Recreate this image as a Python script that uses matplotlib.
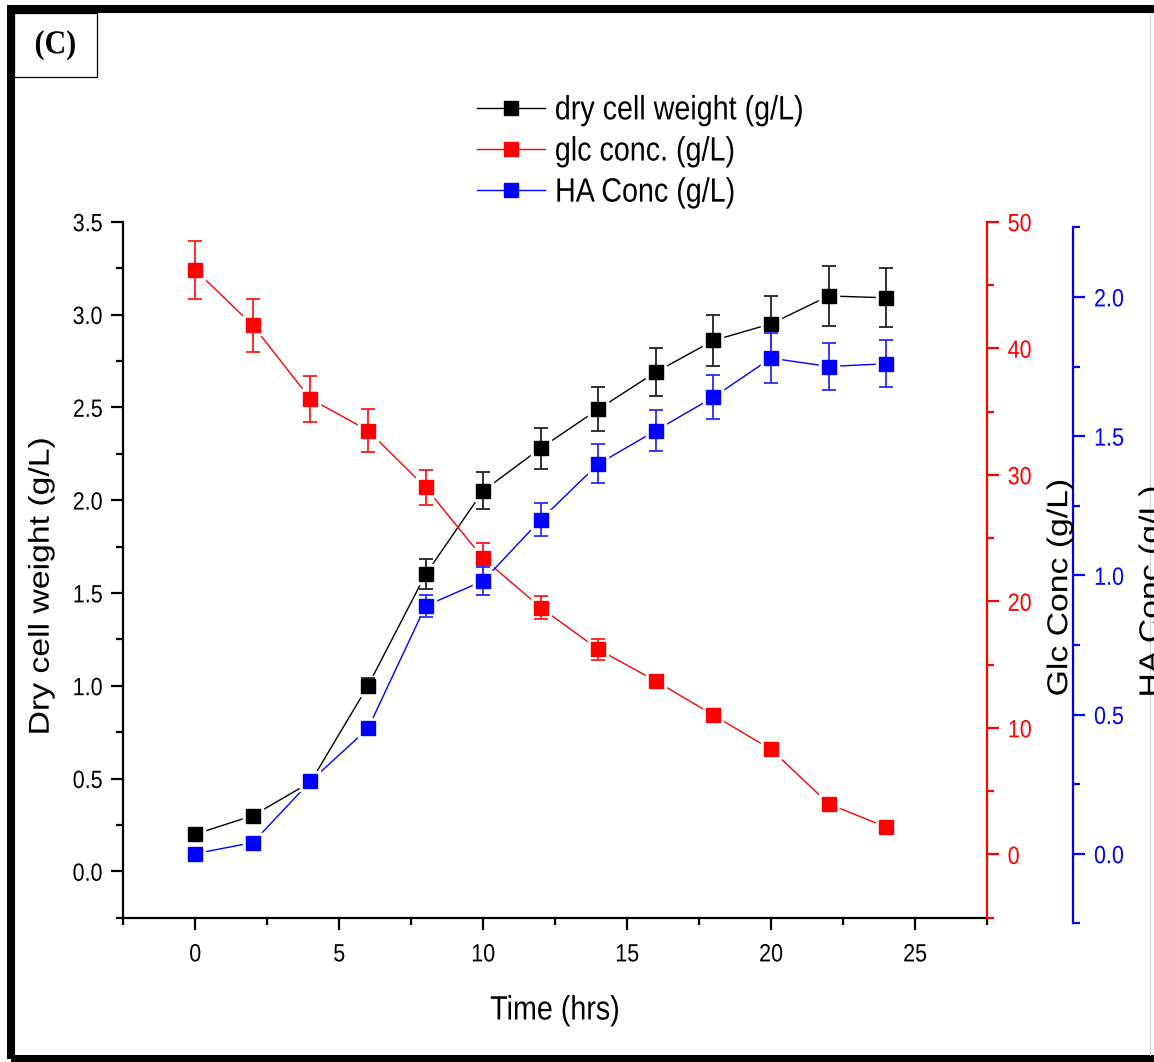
import matplotlib
matplotlib.use("Agg")
import matplotlib.pyplot as plt
from matplotlib.patches import Rectangle
from matplotlib.lines import Line2D
from matplotlib.ticker import MultipleLocator, FixedLocator
from matplotlib.patheffects import AbstractPathEffect
from matplotlib.transforms import Affine2D

# ---------------- data ----------------
time_h = [0, 2, 4, 6, 8, 10, 12, 14, 16, 18, 20, 22, 24]
dcw = [0.20, 0.30, 0.48, 1.00, 1.60, 2.05, 2.28, 2.49, 2.69, 2.86, 2.95, 3.10, 3.09]
dcw_err = [0.02, 0.02, 0.03, 0.04, 0.08, 0.10, 0.11, 0.12, 0.13, 0.14, 0.15, 0.16, 0.16]
glc = [46.2, 41.8, 36.0, 33.5, 29.0, 23.4, 19.5, 16.2, 13.7, 11.0, 8.3, 4.0, 2.15]
glc_err = [2.3, 2.1, 1.8, 1.7, 1.4, 1.2, 0.9, 0.8, 0.4, 0.3, 0.3, 0.3, 0.3]
ha = [0.00, 0.04, 0.26, 0.45, 0.89, 0.98, 1.20, 1.40, 1.52, 1.64, 1.78, 1.75, 1.76]
ha_err = [0.01, 0.01, 0.02, 0.02, 0.04, 0.05, 0.06, 0.07, 0.075, 0.08, 0.09, 0.085, 0.085]

x_ticks = [0, 5, 10, 15, 20, 25]
labels = ["dry cell weight (g/L)", "glc conc. (g/L)", "HA Conc (g/L)"]


class Squeeze(AbstractPathEffect):
    """Draw text scaled along its own x / y directions, keeping an anchor fixed."""

    def __init__(self, sx=1.0, sy=1.0, ax_=0.5, ay_=0.5):
        super().__init__()
        self.sx, self.sy, self.ax_, self.ay_ = sx, sy, ax_, ay_

    def draw_path(self, renderer, gc, tpath, affine, rgbFace=None):
        ext = tpath.get_extents()
        cx = ext.x0 + self.ax_ * (ext.x1 - ext.x0)
        cy = ext.y0 + self.ay_ * (ext.y1 - ext.y0)
        tr = Affine2D().scale(self.sx, self.sy).translate((1 - self.sx) * cx,
                                                           (1 - self.sy) * cy)
        renderer.draw_path(gc, tpath, tr + affine, rgbFace)


W, H = 1154, 1062
fig = plt.figure(figsize=(W / 100, H / 100), dpi=100)
fig.patch.set_facecolor("white")

SANS = ["Liberation Sans", "DejaVu Sans"]
TICK_FS = 18
LAB_FS = 24.3
SQ = 0.85


def fx(px):
    return px / W


def fy(py):
    return 1 - py / H


L, R, T, B = 123.3, 987.0, 221.7, 917.7
ax = fig.add_axes([fx(L), fy(B), (R - L) / W, (B - T) / H])
ax.set_facecolor("none")
ax2 = ax.twinx()
ax3 = fig.add_axes([fx(L), fy(B + 5.6), (R - L) / W, (B - T) / H])
ax3.set_facecolor("none")

# main axis
for s in ["top", "right"]:
    ax.spines[s].set_visible(False)
for s in ["left", "bottom"]:
    ax.spines[s].set_linewidth(1.6)
ax.set_xlim(-2.5, 27.5)
ax.set_ylim(-0.25, 3.5)
ax.xaxis.set_major_locator(FixedLocator(x_ticks))
ax.xaxis.set_minor_locator(MultipleLocator(2.5))
ax.yaxis.set_major_locator(MultipleLocator(0.5))
ax.yaxis.set_minor_locator(MultipleLocator(0.25))

# glc axis
for s in ["top", "left", "bottom"]:
    ax2.spines[s].set_visible(False)
ax2.spines["right"].set_color("red")
ax2.spines["right"].set_linewidth(1.6)
ax2.set_ylim(-5, 50)
ax2.yaxis.set_major_locator(MultipleLocator(10))
ax2.yaxis.set_minor_locator(MultipleLocator(5))

# HA axis
for s in ["top", "left", "bottom"]:
    ax3.spines[s].set_visible(False)
ax3.spines["right"].set_position(("axes", (1073.3 - L) / (R - L)))
ax3.spines["right"].set_color("blue")
ax3.spines["right"].set_linewidth(1.6)
ax3.xaxis.set_visible(False)
ax3.yaxis.tick_right()
ax3.set_xlim(-2.5, 27.5)
ax3.set_ylim(-0.25, 2.25)
ax3.yaxis.set_major_locator(MultipleLocator(0.5))
ax3.yaxis.set_minor_locator(MultipleLocator(0.25))

for a, col in [(ax, "black"), (ax2, "red"), (ax3, "blue")]:
    a.tick_params(which="major", direction="out", length=8.8, width=1.6,
                  color=col, labelcolor=col, labelsize=TICK_FS, pad=6)
    a.tick_params(which="minor", direction="out", length=4.8, width=1.6, color=col)

ax.tick_params(axis="x", which="major", pad=9)

for lab in ax.get_yticklabels():
    lab.set_family(SANS)
    lab.set_path_effects([Squeeze(sx=0.86, ax_=1.0)])
for lab in ax.get_xticklabels():
    lab.set_family(SANS)
    lab.set_path_effects([Squeeze(sx=0.86, ax_=0.5)])
for a in (ax2, ax3):
    for lab in a.get_yticklabels():
        lab.set_family(SANS)
        lab.set_path_effects([Squeeze(sx=0.86, ax_=0.0)])


def draw_series(a, y, err, col, ecol):
    a.plot(time_h, y, color=col, linewidth=1.0, zorder=2)
    a.plot(time_h, y, linestyle="none", marker="s", markersize=14,
           markerfacecolor="white", markeredgecolor="white", zorder=2.2)
    a.errorbar(time_h, y, yerr=err, fmt="none", ecolor=ecol, elinewidth=1.3,
               capsize=5, capthick=1.3, zorder=2.4)
    a.plot(time_h, y, linestyle="none", marker="s", markersize=10,
           color=col, zorder=2.6)


draw_series(ax, dcw, dcw_err, "black", "#222222")
draw_series(ax2, glc, glc_err, "red", "#ff1a1a")
draw_series(ax3, ha, ha_err, "blue", "#2a2aff")

# axis titles
rot_fx = [Squeeze(sy=SQ, ay_=0.5)]
fig.text(fx(41.5), fy(586.5), "Dry cell weight (g/L)", rotation=90, ha="center",
         va="center", fontsize=LAB_FS, family=SANS, path_effects=rot_fx)
fig.text(fx(555), fy(1011), "Time (hrs)", ha="center", va="center",
         fontsize=LAB_FS, family=SANS, path_effects=[Squeeze(sx=SQ, ax_=0.5)])
fig.text(fx(1060), fy(587.5), "Glc Conc (g/L)", rotation=90, ha="center",
         va="center", fontsize=LAB_FS, family=SANS, path_effects=rot_fx)
fig.text(fx(1152), fy(591.5), "HA Conc (g/L)", rotation=90, ha="center",
         va="center", fontsize=LAB_FS, family=SANS, path_effects=rot_fx)

# legend
handles = [
    Line2D([], [], color="black", marker="s", markersize=10, linewidth=1.0),
    Line2D([], [], color="red", marker="s", markersize=10, linewidth=1.0),
    Line2D([], [], color="blue", marker="s", markersize=10, linewidth=1.0),
]
leg = fig.legend(handles, labels, loc="center left",
                 bbox_to_anchor=(fx(477), fy(152)), frameon=False,
                 prop={"family": SANS, "size": LAB_FS}, handlelength=2.0,
                 handletextpad=0.3, labelspacing=0.3, borderpad=0,
                 borderaxespad=0)
for t in leg.get_texts():
    t.set_path_effects([Squeeze(sx=SQ, ax_=0.0)])

# panel label box
fig.add_artist(Rectangle((fx(14), fy(77)), 83 / W, 64 / H, transform=fig.transFigure,
                         fill=False, edgecolor="black", linewidth=0.9))
fig.text(fx(55.5), fy(45), "(C)", ha="center", va="center", fontsize=24,
         fontweight="bold", family=["Liberation Serif", "DejaVu Serif"],
         path_effects=[Squeeze(sx=0.9, ax_=0.5)])

# thick frame
fig.add_artist(Rectangle((fx(10.5), fy(1058.5)), (1250 - 10.5) / W, (1058.5 - 9) / H,
                         transform=fig.transFigure, fill=False, edgecolor="black",
                         linewidth=5.8, clip_on=False))
fig.add_artist(Line2D([fx(1150), fx(1150)], [fy(13), fy(1055)], transform=fig.transFigure,
                      color="#d0d0d0", linewidth=0.8))

fig.savefig("out.png", dpi=100, facecolor="white")
